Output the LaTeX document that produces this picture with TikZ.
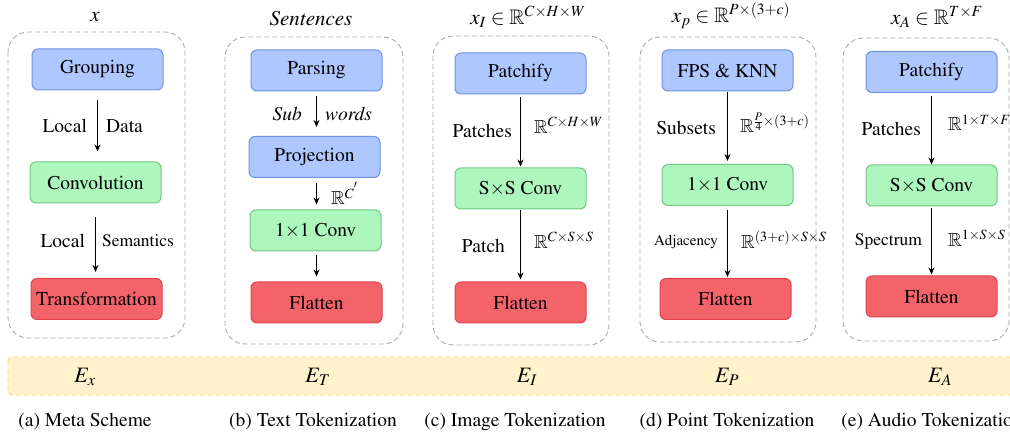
\documentclass[tikz,border=0pt]{standalone}
\usepackage[T1]{fontenc}
\usepackage{amsmath,amssymb}
\usepackage{mathptmx}
\usepackage{tikz}
\usetikzlibrary{arrows.meta,positioning}
\definecolor{bluf}{HTML}{AEC7FF}
\definecolor{blud}{HTML}{6F92E4}
\definecolor{grnf}{HTML}{ADF6BD}
\definecolor{grnd}{HTML}{70C884}
\definecolor{redf}{HTML}{F3636A}
\definecolor{redd}{HTML}{E2434B}
\definecolor{framec}{HTML}{A9A9A9}
\definecolor{bandf}{HTML}{FFF2CC}
\definecolor{bandd}{HTML}{FFD966}
\tikzset{
  >={Stealth[length=7pt,width=6pt]},
  blk/.style={rounded corners=6pt,line width=1pt,minimum width=131pt,minimum height=41pt,inner sep=0pt,font=\fontsize{19.5}{22}\selectfont},
  bblk/.style={blk,fill=bluf,draw=blud},
  gblk/.style={blk,fill=grnf,draw=grnd},
  rblk/.style={blk,fill=redf,draw=redd},
  flow/.style={->,line width=1.1pt},
  lbl/.style={font=\fontsize{19.5}{22}\selectfont,inner sep=4pt},
  slbl/.style={font=\fontsize{17.5}{20}\selectfont,inner sep=4pt},
  tlbl/.style={font=\fontsize{15}{18}\selectfont,inner sep=4pt},
  dim/.style={font=\fontsize{19}{22}\selectfont,inner sep=4pt},
  frame/.style={draw=framec,dash pattern=on 5pt off 3pt,line width=0.9pt,rounded corners=20pt},
  ttl/.style={font=\fontsize{21}{24}\selectfont,inner sep=1pt},
  elbl/.style={font=\fontsize{22}{26}\selectfont,inner sep=1pt},
  subcap/.style={font=\fontsize{19.5}{22}\selectfont,inner sep=1pt},
  bandbox/.style={fill=bandf,draw=bandd,dash pattern=on 5pt off 3pt,line width=0.9pt,rounded corners=4pt},
}
\begin{document}
\begin{tikzpicture}[x=1pt,y=-1pt]
  \clip (0,0) rectangle (1010,438);
  % 虚线框
  \foreach \xa/\ya/\xb/\yb in {8/32/185/338,225/37/403/344,433/36/609/345,640/37/816/342,843/38/1009/341}
    \draw[frame] (\xa,\ya) rectangle (\xb,\yb);
  % 标题
  \node[ttl] (ta) at (95,17) {$x$};
  \node[ttl] (tb) at (311,19) {\textit{Sentences}};
  \node[ttl] (tc) at (528,17) {$x_I\in\mathbb{R}^{C\times H\times W}$};
  \node[ttl] (td) at (731,16) {$x_p\in\mathbb{R}^{P\times(3+c)}$};
  \node[ttl] (te) at (937,17) {$x_A\in\mathbb{R}^{T\times F}$};
  % (a)
  \node[bblk] (a1) at (97.5,69.5) {Grouping};
  \node[gblk] (a2) at (95.5,182.5) {Convolution};
  \node[rblk] (a3) at (96.5,299) {Transformation};
  \draw[flow,shorten <=10pt,shorten >=10pt] (a1.south) -- (a1.south |- a2.north)
    node[midway,left=6pt,lbl]{Local} node[midway,right=4pt,lbl]{Data};
  \draw[flow,shorten <=14pt,shorten >=6pt] (a2.south) -- (a2.south |- a3.north)
    node[midway,left=6pt,lbl]{Local} node[midway,right=2pt,slbl]{Semantics};
  % (b)
  \node[bblk] (b1) at (316.5,70.5) {Parsing};
  \node[bblk] (b2) at (314.5,157) {Projection};
  \node[gblk] (b3) at (315.5,230.5) {1$\times$1 Conv};
  \node[rblk] (b4) at (316.5,302.5) {Flatten};
  \draw[flow,shorten <=5pt,shorten >=9pt] (b1.south) -- (b1.south |- b2.north)
    node[midway,left=10pt,lbl]{\textit{Sub}} node[midway,right=4pt,lbl]{\textit{words}};
  \draw[flow,shorten <=5pt,shorten >=5pt] (b1.south |- b2.south) -- (b1.south |- b3.north)
    node[midway,right=10pt,dim]{$\mathbb{R}^{C^{'}}$};
  \draw[flow,shorten <=4pt,shorten >=5pt] (b1.south |- b3.south) -- (b1.south |- b4.north);
  % (c)
  \node[bblk] (c1) at (520.5,73.5) {Patchify};
  \node[gblk] (c2) at (520.5,188.5) {S$\times$S Conv};
  \node[rblk] (c3) at (520.5,302.5) {Flatten};
  \draw[flow,shorten <=3pt,shorten >=1pt] (c1.south) -- (c2.north)
    node[midway,left=4pt,lbl]{Patches} node[midway,right=9pt,dim,yshift=6pt]{$\mathbb{R}^{C\times H\times W}$};
  \draw[flow,shorten <=1pt,shorten >=2pt] (c2.south) -- (c3.north)
    node[midway,left=11pt,lbl]{Patch} node[midway,right=9pt,dim,yshift=5pt]{$\mathbb{R}^{C\times S\times S}$};
  % (d)
  \node[bblk] (d1) at (727.5,70.5) {FPS \& KNN};
  \node[gblk] (d2) at (727.5,185) {1$\times$1 Conv};
  \node[rblk] (d3) at (725.5,299) {Flatten};
  \draw[flow,shorten <=1pt,shorten >=3pt] (d1.south) -- (d2.north)
    node[midway,left=7pt,lbl]{Subsets} node[midway,right=8pt,dim,yshift=5pt]{$\mathbb{R}^{\frac{P}{4}\times(3+c)}$};
  \draw[flow,shorten <=4pt,shorten >=1pt] (d2.south) -- (d2.south |- d3.north)
    node[midway,left=5pt,tlbl]{Adjacency} node[midway,right=9pt,dim,yshift=2pt]{$\mathbb{R}^{(3+c)\times S\times S}$};
  % (e)
  \node[bblk] (e1) at (931.5,72) {Patchify};
  \node[gblk] (e2) at (931.5,185.5) {S$\times$S Conv};
  \node[rblk] (e3) at (931.5,296.5) {Flatten};
  \draw[flow,shorten <=3pt,shorten >=0pt] (e1.south) -- (e2.north)
    node[midway,left=6pt,lbl]{Patches} node[midway,right=12pt,dim,yshift=6pt]{$\mathbb{R}^{1\times T\times F}$};
  \draw[flow,shorten <=2pt,shorten >=1pt] (e2.south) -- (e3.north)
    node[midway,left=5pt,slbl]{Spectrum} node[midway,right=12pt,dim,yshift=3pt]{$\mathbb{R}^{1\times S\times S}$};
  % 底部嵌入条
  \draw[bandbox] (8,357) rectangle (1016,395);
  \foreach \n/\x/\s in {a/85/x,b/318/T,c/527/I,d/727/P,e/940/A}
    \node[elbl] (E\n) at (\x,377) {$E_{\s}$};
  % 子图标题
  \foreach \n/\x/\t in {a/85/{(a) Meta Scheme},b/313/{(b) Text Tokenization},c/515/{(c) Image Tokenization},d/727/{(d) Point Tokenization},e/932/{(e) Audio Tokenization}}
    \node[subcap] (cap\n) at (\x,422) {\t};
\end{tikzpicture}
\end{document}
